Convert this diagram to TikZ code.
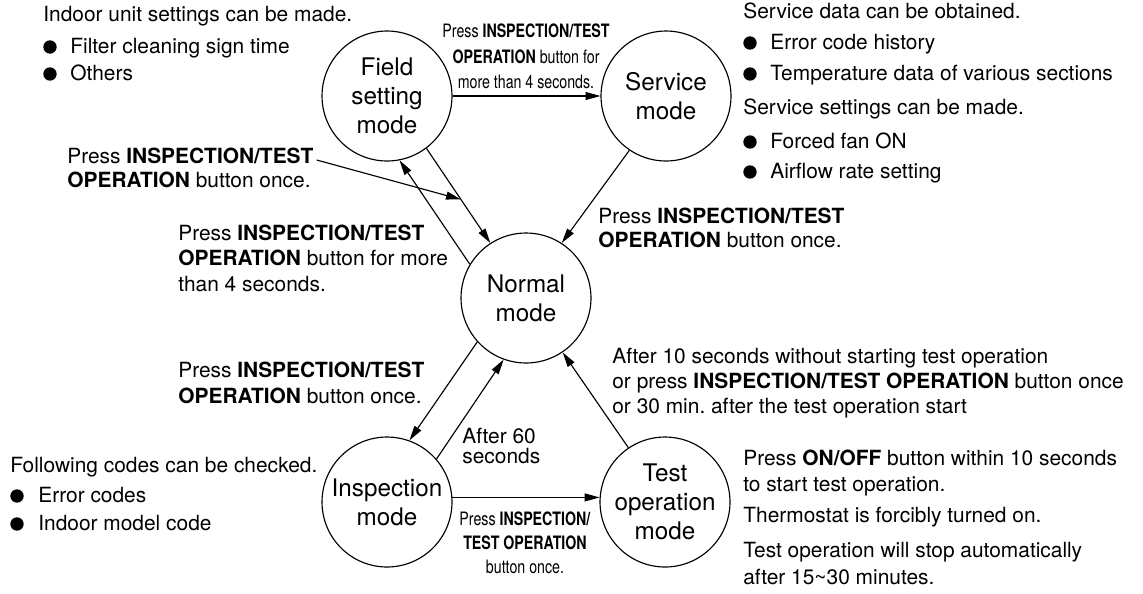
\documentclass[tikz,border=0pt]{standalone}
\usepackage{fontspec}
\setmainfont{TeX Gyre Heros}
\newfontfamily\narrowfont{TeX Gyre Heros}[FakeStretch=0.77]
\usetikzlibrary{arrows.meta, calc}
\frenchspacing

\tikzset{
  modecircle/.style={circle, draw, line width=0.65pt, minimum size=2.6cm, inner sep=0pt,
    align=center, font=\fontsize{13.8}{16.4}\selectfont},
  note/.style={anchor=base west, inner sep=0pt, font=\fontsize{11.9}{14}\selectfont},
  narrowlabel/.style={anchor=base, inner sep=0pt, font=\narrowfont\fontsize{10.5}{12}\selectfont},
  flow/.style={line width=0.65pt, -{Triangle[length=8.5pt, width=4.5pt]}},
}

\begin{document}
\begin{tikzpicture}[x=0.02cm, y=-0.02cm]
  \useasboundingbox (0,0) rectangle (1143,593);

  % Modes
  \node[modecircle] (field) at (387,96) {Field\\setting\\mode};
  \node[modecircle] (service) at (666,96) {Service\\mode};
  \node[modecircle] (normal) at (526,298) {Normal\\mode};
  \node[modecircle] (insp) at (387,502) {Inspection\\mode};
  \node[modecircle] (test) at (665,502) {Test\\operation\\mode};

  % Transitions
  \draw[flow] (field) -- (service);
  \draw[flow] (field.-53) -- coordinate[pos=0.54] (hit) (normal.123);
  \draw[flow] (normal.149) -- (field.-79);
  \draw[flow] (service.-124) -- (normal.57);
  \draw[flow] (normal.222) -- (insp.70);
  \draw[flow] (insp.41) -- (normal.250);
  \draw[flow] (test.124) -- (normal.-56);
  \draw[flow] (insp.4) -- (test.176);

  % Field setting notes
  \node[note] (fieldhead) at (43,21) {Indoor unit settings can be made.};
  \foreach \y/\txt [count=\i] in {53/Filter cleaning sign time, 80/Others} {
    \fill (50,\y-6) circle (3.8pt);
    \node[note] (fielditem\i) at (70,\y) {\txt};
  }

  % Service notes
  \node[note] (servhead) at (743,18) {Service data can be obtained.};
  \foreach \y/\txt [count=\i] in {49/Error code history, 80/Temperature data of various sections} {
    \fill (750,\y-6) circle (3.8pt);
    \node[note] (servitem\i) at (770,\y) {\txt};
  }
  \node[note] (sethead) at (743,114) {Service settings can be made.};
  \foreach \y/\txt [count=\i] in {148/Forced fan ON, 178/Airflow rate setting} {
    \fill (750,\y-6) circle (3.8pt);
    \node[note] (setitem\i) at (770,\y) {\txt};
  }

  % Field -> Service label
  \node[narrowlabel] (fsa) at (526,37) {Press \textbf{INSPECTION/TEST}};
  \node[narrowlabel] (fsb) at (526,63) {\textbf{OPERATION} button for};
  \node[narrowlabel] (fsc) at (526,88) {more than 4 seconds.};

  % Field -> Normal label with pointer
  \node[note] (fna) at (67,163) {Press \textbf{INSPECTION/TEST}};
  \node[note] (fnb) at (67,187) {\textbf{OPERATION} button once.};
  \draw[flow] ($(fna.base east)+(3,-3)$) -- (hit);

  % Normal -> Field label
  \node[note] (nfa) at (178,240) {Press \textbf{INSPECTION/TEST}};
  \node[note] (nfb) at (178,265) {\textbf{OPERATION} button for more};
  \node[note] (nfc) at (178,291) {than 4 seconds.};

  % Service -> Normal label
  \node[note] (sna) at (598,223) {Press \textbf{INSPECTION/TEST}};
  \node[note] (snb) at (598,247) {\textbf{OPERATION} button once.};

  % Normal -> Inspection label
  \node[note] (nia) at (178,377) {Press \textbf{INSPECTION/TEST}};
  \node[note] (nib) at (178,403) {\textbf{OPERATION} button once.};

  % Inspection -> Normal label
  \node[note] (ina) at (462,443) {After 60};
  \node[note] (inb) at (462,463) {seconds};

  % Test -> Normal label
  \node[note] (tna) at (612,363) {After 10 seconds without starting test operation};
  \node[note] (tnb) at (612,388) {or press \textbf{INSPECTION/TEST OPERATION} button once};
  \node[note] (tnc) at (612,413) {or 30 min. after the test operation start};

  % Inspection -> Test label
  \node[narrowlabel] (ita) at (525,525) {Press \textbf{INSPECTION/}};
  \node[narrowlabel] (itb) at (525,549) {\textbf{TEST OPERATION}};
  \node[narrowlabel] (itc) at (525,573) {button once.};

  % Inspection notes
  \node[note] (insphead) at (10,472) {Following codes can be checked.};
  \foreach \y/\txt [count=\i] in {502/Error codes, 530/Indoor model code} {
    \fill (17,\y-6) circle (3.8pt);
    \node[note] (inspitem\i) at (38,\y) {\txt};
  }

  % Test operation notes
  \node[note] (testa) at (743,465) {Press \textbf{ON/OFF} button within 10 seconds};
  \node[note] (testb) at (743,491) {to start test operation.};
  \node[note] (testc) at (743,522) {Thermostat is forcibly turned on.};
  \node[note] (testd) at (743,557) {Test operation will stop automatically};
  \node[note] (teste) at (743,584) {after 15\textasciitilde30 minutes.};
\end{tikzpicture}
\end{document}
